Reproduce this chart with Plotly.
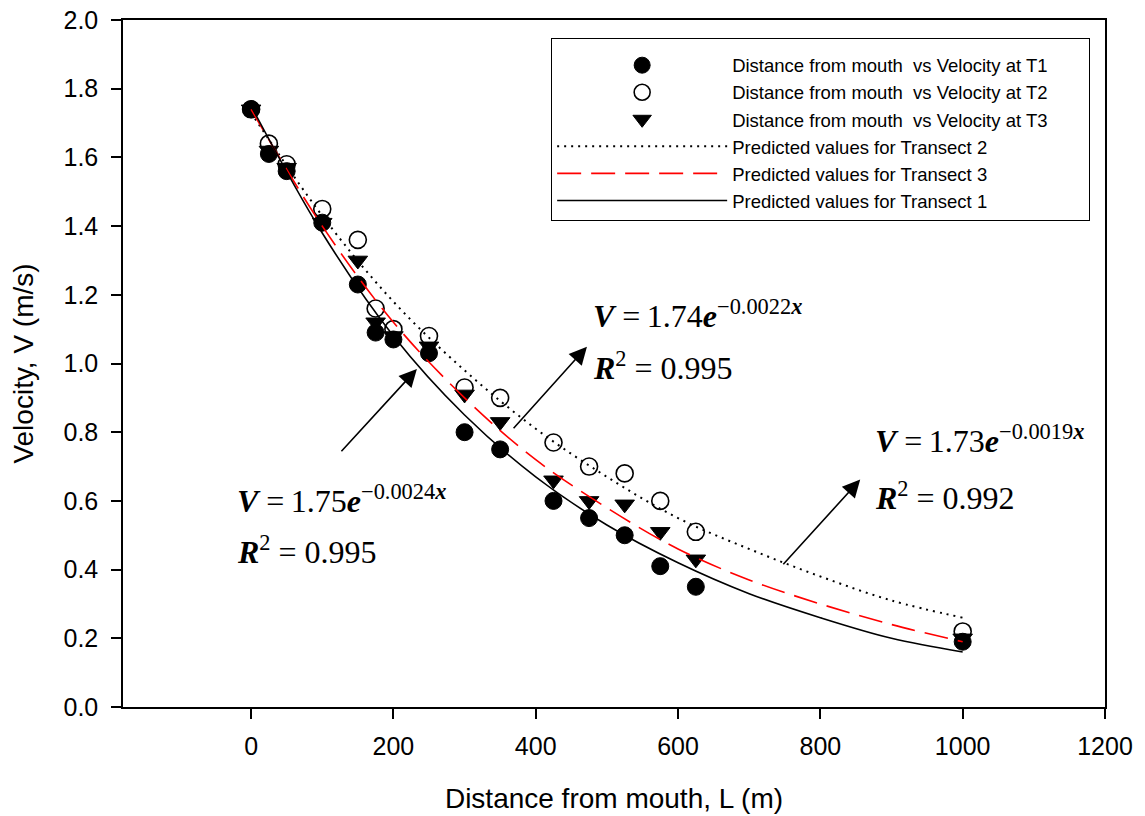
import plotly.graph_objects as go

# ---- data ----
distance = [0, 25, 50, 100, 150, 175, 200, 250, 300, 350, 425, 475, 525, 575, 625, 1000]
vel_t1 = [1.74, 1.61, 1.56, 1.41, 1.23, 1.09, 1.07, 1.03, 0.80, 0.75, 0.60, 0.55, 0.50, 0.41, 0.35, 0.19]
vel_t2 = [1.74, 1.64, 1.58, 1.45, 1.36, 1.16, 1.10, 1.08, 0.93, 0.90, 0.77, 0.70, 0.68, 0.60, 0.51, 0.22]
vel_t3 = [1.74, 1.62, 1.57, 1.41, 1.30, 1.12, 1.08, 1.05, 0.91, 0.83, 0.66, 0.60, 0.59, 0.51, 0.43, 0.20]

curve_x = [0, 100, 200, 300, 400, 500, 600, 700, 800, 900, 1000]
pred_t1 = [1.75, 1.38, 1.08, 0.85, 0.67, 0.53, 0.42, 0.33, 0.26, 0.20, 0.16]
pred_t2 = [1.73, 1.43, 1.18, 0.98, 0.81, 0.67, 0.55, 0.46, 0.38, 0.31, 0.26]
pred_t3 = [1.74, 1.40, 1.12, 0.90, 0.72, 0.58, 0.46, 0.37, 0.30, 0.24, 0.19]

x_ticks = [0, 200, 400, 600, 800, 1000, 1200]

SANS = "Liberation Sans, Arial, sans-serif"
SERIF = "Liberation Serif, Times New Roman, serif"
PAD = "\u00a0" * 7

fig = go.Figure()

# markers (open circles first so filled marks sit on top)
fig.add_trace(go.Scatter(
    x=distance, y=vel_t2, mode="markers", legendrank=2,
    name="Distance from mouth\u00a0\u00a0vs Velocity at T2" + PAD,
    marker=dict(symbol="circle", size=17, color="white", line=dict(color="black", width=1.6))))
fig.add_trace(go.Scatter(
    x=distance, y=vel_t1, mode="markers", legendrank=1,
    name="Distance from mouth\u00a0\u00a0vs Velocity at T1" + PAD,
    marker=dict(symbol="circle", size=17, color="black", line=dict(color="black", width=1))))
fig.add_trace(go.Scatter(
    x=distance, y=vel_t3, mode="markers", legendrank=3,
    name="Distance from mouth\u00a0\u00a0vs Velocity at T3" + PAD,
    marker=dict(symbol="triangle-down", size=17, color="black", line=dict(color="black", width=1))))

# fitted curves
fig.add_trace(go.Scatter(
    x=curve_x, y=pred_t2, mode="lines", line_shape="spline", legendrank=4,
    name="Predicted values for Transect 2",
    line=dict(color="black", width=2, dash="2px,5px")))
fig.add_trace(go.Scatter(
    x=curve_x, y=pred_t3, mode="lines", line_shape="spline", legendrank=5,
    name="Predicted values for Transect 3",
    line=dict(color="red", width=1.6, dash="24px,10px")))
fig.add_trace(go.Scatter(
    x=curve_x, y=pred_t1, mode="lines", line_shape="spline", legendrank=6,
    name="Predicted values for Transect 1",
    line=dict(color="black", width=1.6)))

# equation labels
eq_font = dict(family=SERIF, size=32, color="black")
labels = [
    (-22, 0.606, "<b><i>V</i></b> =\u20091.75<b><i>e</i></b><sup>\u22120.0024<b><i>x</i></b></sup>"),
    (-22, 0.457, "<b><i>R</i></b><sup>2</sup> = 0.995"),
    (477, 1.145, "<b><i>V</i></b> =\u20091.74<b><i>e</i></b><sup>\u22120.0022<b><i>x</i></b></sup>"),
    (477, 0.992, "<b><i>R</i></b><sup>2</sup> = 0.995"),
    (874, 0.780, "<b><i>V</i></b> =\u20091.73<b><i>e</i></b><sup>\u22120.0019<b><i>x</i></b></sup>"),
    (874, 0.615, "<b><i>R</i></b><sup>2</sup> = 0.992"),
]
for lx, ly, txt in labels:
    fig.add_annotation(x=lx, y=ly, text=txt, showarrow=False, xanchor="left",
                       yanchor="middle", font=eq_font)

# arrows (tail -> head)
arrows = [
    (125, 0.740, 233, 0.984),
    (367, 0.807, 472, 1.049),
    (746, 0.411, 856, 0.662),
]
for tx, ty, hx, hy in arrows:
    fig.add_annotation(x=hx, y=hy, ax=tx, ay=ty, xref="x", yref="y", axref="x", ayref="y",
                       text="", showarrow=True, arrowhead=2, arrowsize=2.2,
                       arrowwidth=1.6, arrowcolor="black", standoff=0)

fig.update_layout(
    width=1145, height=816,
    margin=dict(l=123, r=40, t=20, b=109, autoexpand=False),
    paper_bgcolor="white", plot_bgcolor="white",
    font=dict(family=SANS, color="black"),
    legend=dict(x=0.436, y=0.974, xanchor="left", yanchor="top",
                bordercolor="black", borderwidth=1, bgcolor="white",
                font=dict(family=SANS, size=18.5, color="black"),
                title=dict(text="\u00a0", font=dict(size=6)),
                itemwidth=170, tracegroupgap=0),
)
fig.update_xaxes(
    range=[-180, 1200], tickvals=x_ticks, ticks="outside", ticklen=10, tickwidth=1.5,
    tickcolor="black", showline=True, linecolor="black", linewidth=1.5, mirror=True,
    showgrid=False, zeroline=False, tickfont=dict(size=25, family=SANS),
    ticklabelstandoff=6, automargin=False,
    title=dict(text="Distance from mouth, L (m)", font=dict(size=28, family=SANS), standoff=30))
fig.update_yaxes(
    range=[0, 2.0], dtick=0.2, tickformat=".1f", ticks="outside", ticklen=10, tickwidth=1.5,
    tickcolor="black", showline=True, linecolor="black", linewidth=1.5, mirror=True,
    showgrid=False, zeroline=False, tickfont=dict(size=25, family=SANS),
    ticklabelstandoff=8, automargin=False,
    title=dict(text="Velocity, V (m/s)", font=dict(size=28, family=SANS), standoff=22))

fig.write_html("out.html", config={"displayModeBar": False},
               post_script="document.body.style.margin='0';")
